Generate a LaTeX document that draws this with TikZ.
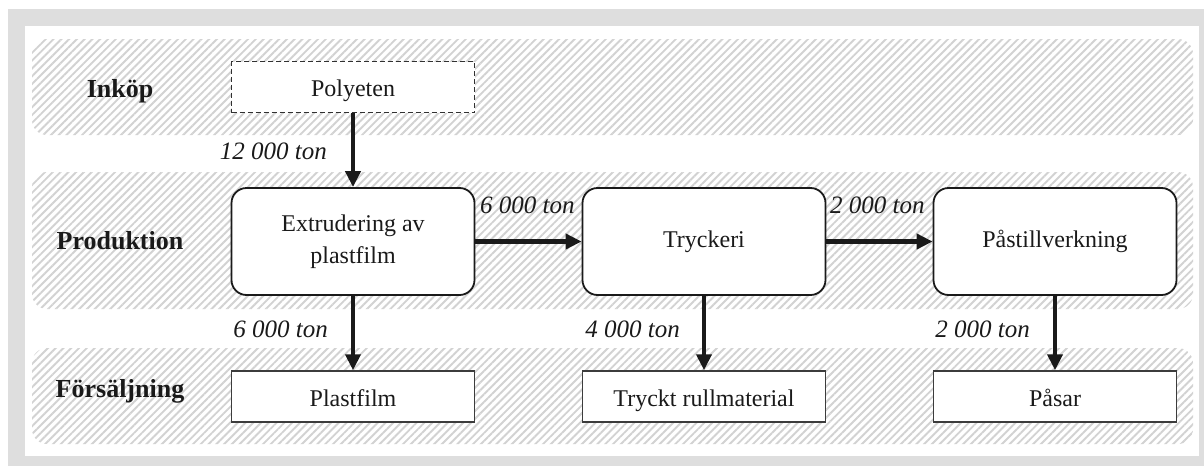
\documentclass[tikz,border=0pt]{standalone}
\usepackage{fontspec}
\setmainfont{Liberation Serif}
\usetikzlibrary{arrows.meta,patterns.meta}
\definecolor{framegray}{HTML}{DEDEDE}
\definecolor{hatchgray}{HTML}{D2D2D2}
\definecolor{ink}{HTML}{1A1A1A}

\begin{document}
\begin{tikzpicture}[x=1pt,y=-1pt,
  band/.style={pattern={Lines[angle=45,distance=5.5pt,line width=1.9pt]},
    pattern color=hatchgray, draw=none, rounded corners=15pt},
  rowlabel/.style={font=\fontsize{26}{30}\selectfont\bfseries, text=ink, inner sep=0pt},
  procbox/.style={draw=ink, line width=1.8pt, rounded corners=15pt, fill=white,
    minimum width=243pt, minimum height=107pt, font=\fontsize{24}{32}\selectfont,
    align=center, inner sep=0pt, text=ink},
  salebox/.style={draw=ink!85, line width=1.5pt, fill=white, minimum width=243pt,
    minimum height=51pt, font=\fontsize{24}{28}\selectfont, inner sep=0pt, text=ink,
    text height=19pt, text depth=0pt},
  inbox/.style={salebox, draw=ink!90, dash pattern=on 5pt off 3pt},
  flow/.style={line width=4.5pt, draw=ink, -{Triangle[length=16pt,width=15pt]}},
  qty/.style={font=\fontsize{25}{28}\selectfont\itshape, text=ink, inner sep=0pt}
]
\useasboundingbox (0,0) rectangle (1204,466);

% outer frame
\fill[framegray] (8,9) rectangle (1204,466);
\fill[white] (25,26) rectangle (1199,456);

% hatched swim lanes
\path[band] (32,39) rectangle (1193,135);
\path[band] (32,172) rectangle (1193,309);
\path[band] (32,348) rectangle (1193,444);

% lane titles
\node[rowlabel, anchor=base] (rin) at (120,97) {Inköp};
\node[rowlabel, anchor=base] (rprod) at (120,249) {Produktion};
\node[rowlabel, anchor=base] (rsale) at (120,397) {Försäljning};

% purchase
\node[inbox] (poly) at (353,87) {Polyeten};

% production steps
\node[procbox] (extr) at (353,241.5) {Extrudering av\\plastfilm};
\node[procbox] (tryck) at (704,241.5) {Tryckeri};
\node[procbox] (pase) at (1055,241.5) {Påstillverkning};

% products sold
\node[salebox] (film) at (353,396.5) {Plastfilm};
\node[salebox] (rull) at (704,396.5) {Tryckt rullmaterial};
\node[salebox] (pasar) at (1055,396.5) {Påsar};

% material flows
\draw[flow] (poly) -- (extr);
\draw[flow] (extr) -- (tryck);
\draw[flow] (tryck) -- (pase);
\draw[flow] (extr) -- (film);
\draw[flow] (tryck) -- (rull);
\draw[flow] (pase) -- (pasar);

% flow quantities
\node[qty, anchor=base east] (q1) at (327,159) {12 000 ton};
\node[qty, anchor=base west] (q2) at (480,213) {6 000 ton};
\node[qty, anchor=base west] (q3) at (830,213) {2 000 ton};
\node[qty, anchor=base east] (q4) at (328,337) {6 000 ton};
\node[qty, anchor=base east] (q5) at (680,337) {4 000 ton};
\node[qty, anchor=base east] (q6) at (1030,337) {2 000 ton};
\end{tikzpicture}
\end{document}
